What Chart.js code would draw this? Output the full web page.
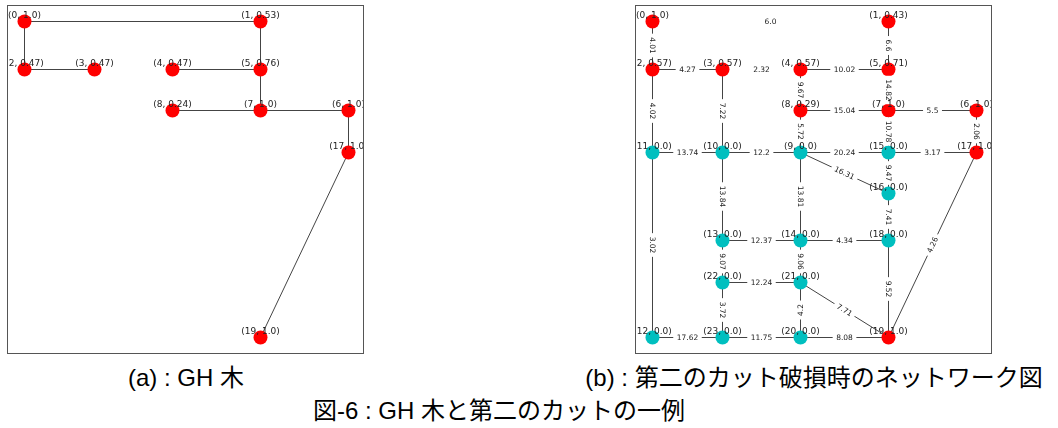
<!DOCTYPE html>
<html>
<head>
<meta charset="utf-8">
<script src="https://cdn.jsdelivr.net/npm/chart.js@4"></script>
<style>
  body { margin: 0; background: #fff; width: 1058px; height: 428px; position: relative; overflow: hidden; }
  .panel { position: absolute; top: 5px; width: 355px; height: 347px; border: 1px solid #555; }
  .cap { position: absolute; font-family: "Liberation Sans", "Noto Sans CJK JP", sans-serif; font-size: 24px; line-height: 24px; color: #000; white-space: nowrap; transform: translateX(-50%); }
</style>
</head>
<body>
<div class="panel" style="left:7px"><canvas id="ghChart" width="355" height="347"></canvas></div>
<div class="panel" style="left:635px"><canvas id="netChart" width="355" height="347"></canvas></div>
<div class="cap" style="left:186px; top:366px">(a) : GH 木</div>
<div class="cap" style="left:814px; top:366px">(b) : 第二のカット破損時のネットワーク図</div>
<div class="cap" style="left:499px; top:399px">図-6 : GH 木と第二のカットの一例</div>
<script>
// Node layout (same positions in both panels), index = node id
const nodeX = [16, 252, 16, 86, 164, 252, 340, 252, 164, 164, 86, 16, 16, 86, 164, 252, 252, 340, 252, 252, 164, 164, 86, 86]
const nodeY = [332, 332, 284, 284, 284, 284, 243, 243, 243, 201, 201, 201, 16, 113, 113, 201, 160, 201, 113, 16, 16, 71, 71, 16]

// (a) GH tree
const ghNodes = [0, 1, 2, 3, 4, 5, 6, 7, 8, 17, 19]
const ghValues = [1.0, 0.53, 0.47, 0.47, 0.47, 0.76, 1.0, 1.0, 0.24, 1.0, 1.0]
const ghEdges = [[0, 1], [0, 2], [2, 3], [4, 5], [1, 5], [5, 7], [7, 8], [6, 7], [6, 17], [17, 19]]

// (b) network after the second cut
const netNodes = [0, 1, 2, 3, 4, 5, 6, 7, 8, 9, 10, 11, 12, 13, 14, 15, 16, 17, 18, 19, 20, 21, 22, 23]
const netValues = [1.0, 0.43, 0.57, 0.57, 0.57, 0.71, 1.0, 1.0, 0.29, 0.0, 0.0, 0.0, 0.0, 0.0, 0.0, 0.0, 0.0, 1.0, 0.0, 1.0, 0.0, 0.0, 0.0, 0.0]
const netEdges = [[0, 2], [2, 3], [1, 5], [4, 5], [4, 8], [5, 7], [7, 8], [6, 7], [6, 17], [2, 11], [3, 10], [8, 9],
  [7, 15], [10, 11], [9, 10], [9, 15], [15, 17], [9, 16], [15, 16], [11, 12], [10, 13], [9, 14], [16, 18], [13, 14],
  [14, 18], [13, 22], [14, 21], [21, 22], [18, 19], [19, 21], [17, 19], [22, 23], [20, 21], [12, 23], [20, 23], [19, 20]]
const netWeights = [4.01, 4.27, 6.6, 10.02, 9.67, 14.82, 15.04, 5.5, 2.06, 4.02, 7.22, 5.72,
  10.78, 13.74, 12.2, 20.24, 3.17, 16.31, 9.47, 3.02, 13.84, 13.81, 7.41, 12.37,
  4.34, 9.07, 9.06, 12.24, 9.52, 7.71, 4.26, 3.72, 4.2, 17.62, 11.75, 8.08]
// broken edges: label stays, line is gone
const cutEdges = [[0, 1], [3, 4]]
const cutWeights = [6.0, 2.32]

// python-like number text (1 -> "1.0")
const pyNum = (v) => Number.isInteger(v) ? v.toFixed(1) : String(v)

const nodeColor = (v) => v > 0 ? '#ff0000' : '#00bfbf'

const makeLabelPlugin = (nodes, values, edges, weights) => ({
  id: 'graphLabels',
  afterDatasetsDraw(chart) {
    const ctx = chart.ctx
    const xs = chart.scales.x, ys = chart.scales.y
    const pos = (id) => ({ x: xs.getPixelForValue(nodeX[id]), y: ys.getPixelForValue(nodeY[id]) })

    // edge labels, rotated along the edge like networkx does
    edges.forEach((e, i) => {
      const a = pos(e[0]), b = pos(e[1])
      let ang = Math.atan2(-(b.y - a.y), b.x - a.x) * 180 / Math.PI
      if (ang > 90) ang -= 180
      if (ang < -90) ang += 180
      const text = pyNum(weights[i])
      ctx.save()
      ctx.translate((a.x + b.x) / 2, (a.y + b.y) / 2)
      ctx.rotate(-ang * Math.PI / 180)
      ctx.font = '7.5px "DejaVu Sans"'
      const w = ctx.measureText(text).width
      ctx.fillStyle = '#fff'
      ctx.fillRect(-w / 2 - 3.5, -5.5, w + 7, 11)
      ctx.fillStyle = '#222'
      ctx.textAlign = 'center'
      ctx.textBaseline = 'middle'
      ctx.fillText(text, 0, 0.5)
      ctx.restore()
    })

    // node labels
    ctx.save()
    ctx.font = '9px "DejaVu Sans"'
    ctx.fillStyle = '#222'
    ctx.textAlign = 'center'
    ctx.textBaseline = 'middle'
    nodes.forEach((id, i) => {
      const p = pos(id)
      ctx.fillText('(' + id + ', ' + pyNum(values[i]) + ')', p.x, p.y - 6)
    })
    ctx.restore()
  }
})

const drawGraph = (canvasId, nodes, values, edges, labelEdges, labelWeights) => {
  const datasets = [{
    type: 'scatter',
    order: 0,
    data: nodes.map(id => ({ x: nodeX[id], y: nodeY[id] })),
    pointRadius: 7,
    pointHoverRadius: 7,
    pointBorderWidth: 0,
    pointBackgroundColor: values.map(nodeColor),
  }]
  edges.forEach(e => {
    datasets.push({
      type: 'line',
      order: 1,
      data: [{ x: nodeX[e[0]], y: nodeY[e[0]] }, { x: nodeX[e[1]], y: nodeY[e[1]] }],
      borderColor: '#444',
      borderWidth: 1,
      pointRadius: 0,
      fill: false,
    })
  })

  return new Chart(document.getElementById(canvasId), {
    type: 'scatter',
    data: { datasets: datasets },
    options: {
      responsive: false,
      animation: false,
      layout: { padding: 0, autoPadding: false },
      // half-pixel shift so 1px edges stay crisp
      scales: {
        x: { type: 'linear', min: -0.5, max: 354.5, display: false },
        y: { type: 'linear', min: 0.5, max: 347.5, display: false },
      },
      plugins: { legend: { display: false }, tooltip: { enabled: false } },
    },
    plugins: [makeLabelPlugin(nodes, values, labelEdges, labelWeights)],
  })
}

drawGraph('ghChart', ghNodes, ghValues, ghEdges, [], [])
drawGraph('netChart', netNodes, netValues, netEdges, netEdges.concat(cutEdges), netWeights.concat(cutWeights))
</script>
</body>
</html>
